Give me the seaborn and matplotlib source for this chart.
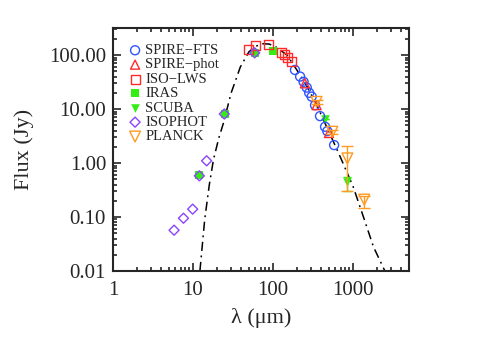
import numpy as np
import pandas as pd
import matplotlib
matplotlib.use("Agg")
import matplotlib.pyplot as plt
import seaborn as sns

# ---- data ----
fts_x = [188, 218, 241, 264, 283, 304, 335, 387, 447, 477, 580]
fts_y = [53, 40, 32, 25, 20, 17, 11.8, 7.4, 4.7, 3.9, 2.15]

phot_x = [250, 350, 500]
phot_y = [30, 11.8, 3.6]

lws_x = [50, 60, 87, 129, 141, 152, 168]
lws_y = [129, 153, 159, 114, 104, 92, 77]

iras_x = [12, 25, 60, 100]
iras_y = [0.6, 8.0, 108, 120]

scuba_x = [450, 850]
scuba_y = [6.5, 0.45]
scuba_lo = [6.5, 0.30]
scuba_hi = [6.5, 0.55]

isophot_x = [5.8, 7.6, 9.9, 12, 14.8, 24.6, 59]
isophot_y = [0.057, 0.095, 0.14, 0.58, 1.1, 8.1, 110]

planck_x = [350, 550, 850, 1380]
planck_y = [13.6, 3.8, 1.22, 0.21]
planck_lo = [12.5, 3.5, 0.30, 0.15]
planck_hi = [14.8, 4.1, 2.1, 0.25]

model_x = [12.2, 14, 16, 18, 21, 24, 30, 39, 50, 60, 75, 90, 110, 150, 200,
           250, 350, 500, 700, 1000, 1350, 1800, 2500]
model_y = [0.01, 0.09, 0.4, 1.15, 2.9, 5.5, 20, 60, 115, 145, 162, 160, 140,
           100, 52, 31, 12, 3.8, 1.25, 0.37, 0.1, 0.028, 0.01]

xticks = [1, 10, 100, 1000]
xtick_labels = ["1", "10", "100", "1000"]
yticks = [0.01, 0.1, 1, 10, 100]
ytick_labels = ["0.01", "0.10", "1.00", "10.00", "100.00"]

# ---- style ----
sns.set_style("ticks")
plt.rcParams["font.family"] = ["Liberation Serif", "DejaVu Serif"]

fig = plt.figure(figsize=(4.86, 3.47), dpi=100)
ax = fig.add_axes([0.2325, 0.219, 0.609, 0.700])
ax.set_xscale("log")
ax.set_yscale("log")

blue = "#2f55ff"
red = "#ff2a2a"
green = "#33ee11"
purple = "#8a44ff"
orange = "#ff9a22"

model = pd.DataFrame({"x": model_x, "y": model_y})
sns.lineplot(data=model, x="x", y="y", ax=ax, color="black", lw=1.1,
             sort=False, estimator=None, linestyle=(0, (6, 3, 1.2, 3)))

ms = 42
sns.scatterplot(x=fts_x, y=fts_y, ax=ax, marker="o", s=ms, fc="none",
                ec=blue, linewidth=1.0, label="SPIRE\u2212FTS", zorder=5)
sns.scatterplot(x=phot_x, y=phot_y, ax=ax, marker="^", s=ms, fc="none",
                ec=red, linewidth=1.0, label="SPIRE\u2212phot", zorder=5)
sns.scatterplot(x=lws_x, y=lws_y, ax=ax, marker="s", s=ms, fc="none",
                ec=red, linewidth=1.0, label="ISO\u2212LWS", zorder=5)
sns.scatterplot(x=iras_x, y=iras_y, ax=ax, marker="s", s=34, color=green,
                ec=green, linewidth=0, label="IRAS", zorder=4)
ax.errorbar(scuba_x, scuba_y,
            yerr=[np.array(scuba_y) - np.array(scuba_lo),
                  np.array(scuba_hi) - np.array(scuba_y)],
            fmt="none", ecolor=green, elinewidth=1, capsize=3, zorder=4)
sns.scatterplot(x=scuba_x, y=scuba_y, ax=ax, marker="v", s=38, color=green,
                ec=green, linewidth=0, label="SCUBA", zorder=4)
sns.scatterplot(x=isophot_x, y=isophot_y, ax=ax, marker="D", s=26, fc="none",
                ec=purple, linewidth=1.0, label="ISOPHOT", zorder=6)
ax.errorbar(planck_x, planck_y,
            yerr=[np.array(planck_y) - np.array(planck_lo),
                  np.array(planck_hi) - np.array(planck_y)],
            fmt="none", ecolor=orange, elinewidth=1, capsize=4, zorder=5)
sns.scatterplot(x=planck_x, y=planck_y, ax=ax, marker="v", s=60, fc="none",
                ec=orange, linewidth=1.0, label="PLANCK", zorder=5)

ax.set_xlim(1, 5000)
ax.set_ylim(0.01, 316)
ax.set_xticks(xticks)
ax.set_xticklabels(xtick_labels)
ax.set_yticks(yticks)
ax.set_yticklabels(ytick_labels)

ax.tick_params(which="both", direction="in", top=True, right=True,
               labelsize=15, width=1.2)
ax.tick_params(axis="x", pad=7)
ax.tick_params(axis="y", pad=5)
ax.tick_params(which="major", length=6)
ax.tick_params(which="minor", length=3)
for s in ax.spines.values():
    s.set_linewidth(1.5)

ax.set_xlabel("\u03bb (\u03bcm)", fontsize=16)
ax.set_ylabel("Flux (Jy)", fontsize=16)
ax.xaxis.set_label_coords(0.5, -0.193)
ax.yaxis.set_label_coords(-0.30, 0.5)
ax.xaxis.label.set_va("center")
ax.yaxis.label.set_va("center")

leg = ax.legend(loc="upper left", frameon=False, fontsize=10.5,
                handletextpad=0.1, labelspacing=0.08, borderaxespad=0.0,
                borderpad=0.0, handlelength=1.2,
                bbox_to_anchor=(0.045, 0.935))

fig.savefig("out.png", dpi=100)
